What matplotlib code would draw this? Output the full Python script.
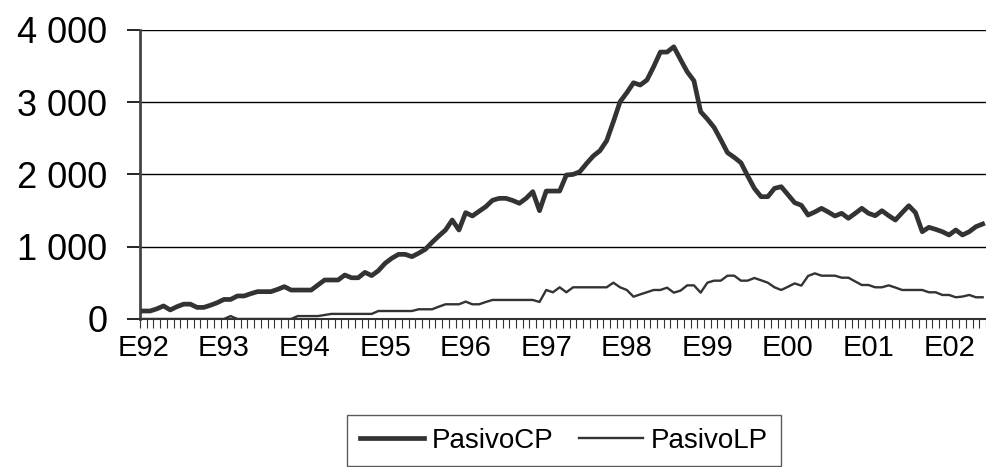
import numpy as np
import matplotlib
matplotlib.use('Agg')
from matplotlib import pyplot as plt
from matplotlib.ticker import FixedLocator, FuncFormatter

plt.rcParams['font.family'] = ['Liberation Sans', 'DejaVu Sans']

# monthly data, Jan 1992 .. Jun 2002
pasivo_cp = [110, 110, 140, 180, 125, 170, 205, 205, 160, 160, 190, 225,
             270, 270, 318, 318, 350, 378, 378, 378, 410, 447, 400, 400,
             400, 400, 470, 539, 539, 539, 608, 570, 570, 645, 600, 668,
             770, 840, 894, 894, 862, 910, 964, 1060, 1148, 1231, 1369, 1231,
             1471, 1425, 1490, 1554, 1642, 1669, 1669, 1640, 1600, 1669, 1761, 1498,
             1770, 1770, 1770, 1992, 2000, 2037, 2150, 2254, 2328, 2466, 2729, 3006,
             3130, 3268, 3237, 3306, 3490, 3693, 3693, 3766, 3590, 3420, 3296, 2868,
             2766, 2651, 2480, 2301, 2236, 2162, 1980, 1807, 1692, 1692, 1807, 1830,
             1720, 1609, 1573, 1438, 1480, 1531, 1480, 1425, 1462, 1393, 1460, 1531,
             1462, 1429, 1498, 1430, 1369, 1470, 1567, 1471, 1207, 1268, 1240, 1207,
             1162, 1231, 1162, 1207, 1277, 1314]
pasivo_lp = [0, 0, 0, 0, 0, 0, 0, 0, 0, 0, 0, 0,
             0, 40, 0, 0, 0, 0, 0, 0, 0, 0, 0, 40,
             40, 40, 40, 55, 70, 70, 70, 70, 70, 70, 70, 110,
             110, 110, 110, 110, 110, 134, 134, 134, 170, 203, 203, 203,
             240, 203, 203, 235, 263, 263, 263, 263, 263, 263, 263, 235,
             401, 369, 438, 369, 438, 438, 438, 438, 438, 438, 502, 438,
             401, 308, 340, 370, 401, 401, 433, 364, 392, 465, 465, 364,
             502, 530, 530, 599, 599, 530, 530, 567, 535, 502, 438, 401,
             445, 492, 461, 595, 631, 599, 599, 599, 571, 571, 520, 470,
             470, 438, 438, 465, 435, 401, 401, 401, 401, 369, 369, 332,
             332, 300, 310, 332, 300, 300]
year_labels = ['E92', 'E93', 'E94', 'E95', 'E96', 'E97', 'E98', 'E99', 'E00', 'E01', 'E02']
y_ticks = [0, 1000, 2000, 3000, 4000]

n = len(pasivo_cp)
x = np.arange(n)

fig = plt.figure(figsize=(9.86, 4.67), dpi=100)
ax = fig.add_axes([0.142, 0.317, 0.858, 0.619])

ax.plot(x, pasivo_cp, color='#333333', lw=3.4, label='PasivoCP', zorder=3)
ax.plot(x, pasivo_lp, color='#333333', lw=1.7, label='PasivoLP', zorder=3)

ax.set_xlim(-0.5, n - 0.5)
ax.set_ylim(0, 4000)
ax.set_yticks(y_ticks)
ax.yaxis.set_major_formatter(FuncFormatter(lambda v, p: f'{int(v):,}'.replace(',', ' ')))
ax.grid(axis='y', color='black', lw=1.0, zorder=1)

ax.set_xticks(np.arange(0, n, 12))
ax.set_xticklabels(year_labels)
ax.xaxis.set_minor_locator(FixedLocator(np.arange(-0.5, n, 1)))
ax.tick_params(axis='x', which='major', length=0, pad=11, labelsize=21)
ax.tick_params(axis='x', which='minor', length=6.5, width=0.8, color='#333333')
ax.tick_params(axis='y', length=9.5, width=1.2, labelsize=26, pad=14)

for s in ['top', 'right']:
    ax.spines[s].set_visible(False)
ax.spines['left'].set_color('#444444')
ax.spines['left'].set_linewidth(2)
ax.spines['bottom'].set_color('#333333')
ax.spines['bottom'].set_linewidth(1.5)

leg = fig.legend(loc='upper center', bbox_to_anchor=(0.572, 0.111), ncol=2, fontsize=20,
                 frameon=True, fancybox=False, edgecolor='#333333', handlelength=2.3,
                 handletextpad=0.3, columnspacing=0.9, borderpad=0.45, borderaxespad=0)
leg.get_frame().set_linewidth(1.0)

fig.savefig('out.png', dpi=100)
